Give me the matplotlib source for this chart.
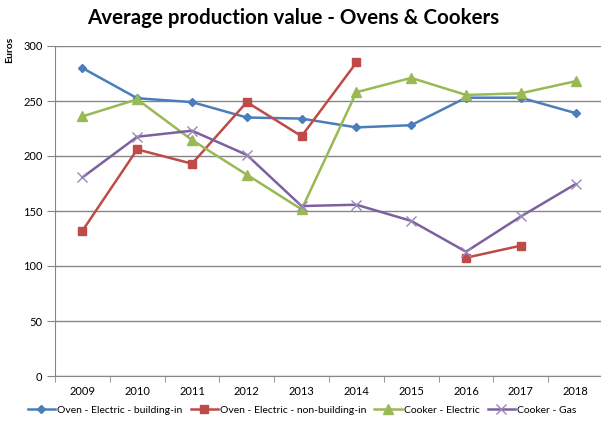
import matplotlib
matplotlib.use("Agg")
import matplotlib.pyplot as plt
import numpy as np

plt.rcParams['font.family'] = ['Lato', 'DejaVu Sans']

years = ['2009', '2010', '2011', '2012', '2013', '2014', '2015', '2016', '2017', '2018']
oven_building_in = [280, 252.5, 249, 235, 234, 226, 228, 253, 253, 239]
oven_non_building_in = [132, 206, 193, 249, 218, 285, np.nan, 107.5, 118.5, np.nan]
cooker_electric = [236, 251.5, 214.5, 183, 151.5, 258, 271, 255.5, 257, 268]
cooker_gas = [180.5, 217.5, 223, 201, 154.5, 155.7, 141, 113, 145, 174.5]

W, H = 601, 423
fig = plt.figure(figsize=(W / 100, H / 100), dpi=100)
ax = fig.add_axes([55 / W, (H - 376) / H, 548 / W, 330 / H])

x = np.arange(len(years))
ax.plot(x, oven_building_in, color='#4a7ebb', lw=1.8, marker='D', ms=4.5,
        label='Oven - Electric - building-in')
ax.plot(x, oven_non_building_in, color='#be4b48', lw=1.8, marker='s', ms=6,
        label='Oven - Electric - non-building-in')
ax.plot(x, cooker_electric, color='#98b954', lw=1.8, marker='^', ms=6.5,
        label='Cooker - Electric')
ax.plot(x, cooker_gas, color='#7d60a0', lw=1.8, marker='x', ms=7, mew=1,
        mec='#9a86b8', label='Cooker - Gas')

ax.set_xlim(-0.5, 9.5)
ax.set_ylim(0, 300)
ax.set_yticks(range(0, 301, 50))
ax.set_xticks(x)
ax.set_xticklabels(years)
ax.set_xticks(np.arange(-0.5, 10, 1), minor=True)
ax.tick_params(axis='x', which='major', length=0, labelsize=8, pad=7)
ax.tick_params(axis='x', which='minor', length=4, color='#868686', direction='out')
ax.tick_params(axis='y', length=6, color='#868686', labelsize=8, pad=3)
ax.yaxis.grid(True, color='#868686', lw=1)
ax.set_axisbelow(True)
for s in ['top', 'right']:
    ax.spines[s].set_visible(False)
for s in ['left', 'bottom']:
    ax.spines[s].set_color('#868686')

fig.text(0.5 * (87 + 500) / W, 1 - 18 / H, 'Average production value - Ovens & Cookers',
         ha='center', va='center', fontsize=14.8, fontweight='bold')
fig.text(10 / W, 1 - 50 / H, 'Euros', rotation=90, ha='center', va='center',
         fontsize=7.5, fontweight='bold')

fig.legend(loc='center', bbox_to_anchor=(302 / W, 1 - 410 / H), ncol=4, frameon=False,
           fontsize=7.5, handlelength=2.6, columnspacing=0.8, handletextpad=0.2,
           borderpad=0)

fig.savefig('out.png', dpi=100)
